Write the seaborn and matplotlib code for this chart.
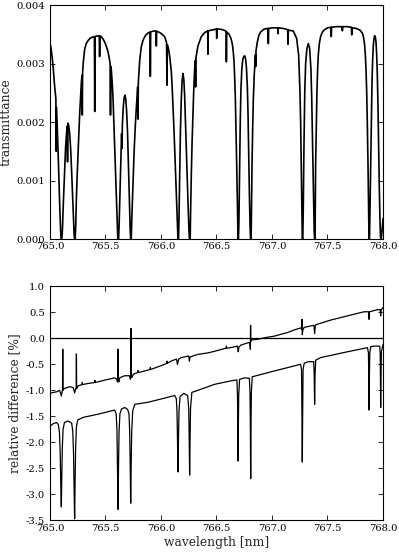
import numpy as np
import matplotlib
matplotlib.use("Agg")
import matplotlib.pyplot as plt
import seaborn as sns
from matplotlib.ticker import FormatStrFormatter, MultipleLocator

WL0 = 765.0  # wavelength origin [nm], points below are offsets from it

# transmittance (units of 1e-3)
trans_pts = [
    (0.000, 3.36), (0.010, 3.25), (0.020, 3.10), (0.030, 2.90), (0.040, 2.65),
    (0.050, 2.45), (0.053, 2.40), (0.056, 1.50), (0.059, 2.25), (0.065, 1.95),
    (0.072, 1.55), (0.080, 1.05), (0.088, 0.55), (0.095, 0.18), (0.100, 0.0),
    (0.106, 0.0), (0.112, 0.15), (0.120, 0.60), (0.130, 1.10), (0.140, 1.55),
    (0.150, 1.83), (0.155, 1.93), (0.158, 1.32), (0.161, 1.98), (0.168, 1.95),
    (0.177, 1.82), (0.186, 1.55), (0.195, 1.15), (0.204, 0.70), (0.212, 0.30),
    (0.218, 0.05), (0.222, 0.0), (0.227, 0.0), (0.232, 0.25), (0.237, 0.64),
    (0.244, 1.05), (0.252, 1.44), (0.260, 1.80), (0.267, 2.12), (0.275, 2.42),
    (0.282, 2.66), (0.288, 2.80), (0.291, 2.12), (0.294, 2.85), (0.300, 3.02),
    (0.312, 3.24), (0.326, 3.34), (0.342, 3.39), (0.360, 3.43), (0.380, 3.45),
    (0.400, 3.46), (0.403, 2.18), (0.406, 3.46), (0.420, 3.47), (0.444, 3.47),
    (0.447, 3.12), (0.450, 3.47), (0.462, 3.46), (0.478, 3.42), (0.492, 3.37),
    (0.510, 3.28), (0.523, 3.20), (0.538, 3.05), (0.542, 2.98), (0.545, 2.12),
    (0.548, 2.95), (0.553, 2.88), (0.560, 2.68), (0.568, 2.40), (0.575, 2.00),
    (0.583, 1.55), (0.590, 1.12), (0.598, 0.70), (0.605, 0.30), (0.610, 0.05),
    (0.613, 0.0), (0.618, 0.0), (0.622, 0.20), (0.630, 0.75), (0.638, 1.30),
    (0.645, 1.80), (0.649, 1.55), (0.652, 1.95), (0.660, 2.25), (0.668, 2.42),
    (0.675, 2.46), (0.682, 2.40), (0.690, 2.20), (0.698, 1.85), (0.705, 1.40),
    (0.712, 0.90), (0.718, 0.45), (0.723, 0.12), (0.727, 0.0), (0.732, 0.0),
    (0.737, 0.35), (0.748, 0.98), (0.758, 1.50), (0.769, 1.95), (0.778, 2.25),
    (0.787, 2.50), (0.790, 2.60), (0.793, 2.05), (0.796, 2.68), (0.808, 3.05),
    (0.822, 3.28), (0.838, 3.40), (0.860, 3.48), (0.883, 3.52), (0.902, 3.54),
    (0.904, 2.78), (0.907, 3.54), (0.930, 3.555), (0.956, 3.556), (0.958, 3.30),
    (0.961, 3.55), (0.988, 3.53), (1.010, 3.50), (1.033, 3.46), (1.050, 3.36),
    (1.054, 2.63), (1.057, 3.32), (1.069, 3.24), (1.080, 3.10), (1.093, 2.86),
    (1.100, 2.62), (1.108, 2.29), (1.116, 1.92), (1.123, 1.55), (1.130, 1.18),
    (1.138, 0.81), (1.145, 0.40), (1.150, 0.10), (1.153, 0.0), (1.158, 0.0),
    (1.162, 0.35), (1.168, 1.05), (1.175, 1.85), (1.183, 2.40), (1.190, 2.70),
    (1.198, 2.83), (1.206, 2.72), (1.213, 2.45), (1.220, 2.05), (1.228, 1.55),
    (1.236, 1.05), (1.243, 0.64), (1.250, 0.25), (1.255, 0.03), (1.258, 0.0),
    (1.263, 0.0), (1.266, 0.40), (1.273, 1.09), (1.280, 1.65), (1.288, 2.12),
    (1.295, 2.55), (1.303, 2.90), (1.309, 3.05), (1.312, 2.60), (1.315, 3.10),
    (1.333, 3.30), (1.363, 3.46), (1.395, 3.53), (1.421, 3.56), (1.423, 3.16),
    (1.426, 3.56), (1.477, 3.58), (1.500, 3.59), (1.502, 3.43), (1.505, 3.59),
    (1.540, 3.585), (1.568, 3.57), (1.587, 3.55), (1.589, 3.03), (1.592, 3.54),
    (1.613, 3.50), (1.630, 3.43), (1.643, 3.33), (1.652, 3.18), (1.658, 3.03),
    (1.664, 2.75), (1.670, 2.40), (1.676, 1.85), (1.682, 1.26), (1.688, 0.60),
    (1.692, 0.15), (1.694, 0.0), (1.698, 0.0), (1.702, 0.30), (1.708, 1.20),
    (1.714, 2.00), (1.720, 2.55), (1.728, 2.90), (1.736, 3.06), (1.745, 3.12),
    (1.754, 3.13), (1.762, 3.08), (1.770, 2.92), (1.778, 2.60), (1.784, 2.15),
    (1.790, 1.45), (1.796, 0.80), (1.802, 0.25), (1.806, 0.02), (1.808, 0.0),
    (1.812, 0.0), (1.815, 0.50), (1.820, 1.27), (1.826, 1.90), (1.832, 2.40),
    (1.840, 2.80), (1.847, 3.03), (1.851, 3.15), (1.853, 2.95), (1.856, 3.22),
    (1.868, 3.37), (1.882, 3.48), (1.898, 3.54), (1.930, 3.59), (1.964, 3.60),
    (1.967, 3.34), (1.970, 3.60), (2.000, 3.61), (2.052, 3.61), (2.054, 3.51),
    (2.057, 3.61), (2.100, 3.60), (2.141, 3.58), (2.144, 3.33), (2.147, 3.57),
    (2.192, 3.556), (2.222, 3.43), (2.240, 3.145), (2.252, 2.52), (2.258, 2.00),
    (2.264, 1.27), (2.269, 0.55), (2.273, 0.0), (2.277, 0.0), (2.281, 0.40),
    (2.288, 1.60), (2.295, 2.50), (2.303, 3.00), (2.315, 3.26), (2.327, 3.34),
    (2.339, 3.26), (2.351, 2.90), (2.358, 2.40), (2.366, 1.55), (2.374, 0.70),
    (2.380, 0.15), (2.384, 0.0), (2.388, 0.0), (2.390, 0.60), (2.393, 1.27),
    (2.399, 1.95), (2.405, 2.52), (2.411, 2.90), (2.417, 3.145), (2.427, 3.35),
    (2.438, 3.46), (2.452, 3.53), (2.468, 3.57), (2.500, 3.61), (2.532, 3.62),
    (2.534, 3.46), (2.537, 3.62), (2.580, 3.63), (2.632, 3.63), (2.634, 3.56),
    (2.637, 3.63), (2.680, 3.63), (2.716, 3.62), (2.718, 3.49), (2.721, 3.61),
    (2.760, 3.60), (2.793, 3.57), (2.814, 3.52), (2.823, 3.46), (2.833, 3.35),
    (2.841, 3.145), (2.847, 2.90), (2.853, 2.52), (2.859, 1.95), (2.865, 1.27),
    (2.870, 0.55), (2.874, 0.0), (2.878, 0.0), (2.882, 0.40), (2.889, 1.27),
    (2.895, 2.10), (2.901, 2.69), (2.907, 3.08), (2.913, 3.316), (2.919, 3.43),
    (2.925, 3.476), (2.931, 3.45), (2.937, 3.37), (2.943, 3.15), (2.949, 2.80),
    (2.955, 2.25), (2.961, 1.55), (2.967, 0.85), (2.973, 0.30), (2.977, 0.05),
    (2.980, 0.0), (2.985, 0.0), (2.992, 0.15), (3.000, 0.35),
]

# relative difference [%], upper curve
diff_upper_pts = [
    (0.000, -1.06), (0.030, -1.04), (0.060, -1.03), (0.085, -1.00), (0.095, -1.05),
    (0.102, -1.11), (0.108, -1.05), (0.113, -0.98), (0.115, -0.21), (0.117, -1.00),
    (0.125, -0.97), (0.150, -0.95), (0.180, -0.93), (0.210, -0.95), (0.222, -1.05),
    (0.230, -0.98), (0.236, -0.95), (0.238, -0.30), (0.240, -0.97), (0.250, -0.92),
    (0.289, -0.89), (0.291, -0.85), (0.293, -0.89), (0.340, -0.87), (0.403, -0.85),
    (0.405, -0.81), (0.407, -0.85), (0.447, -0.83), (0.500, -0.80), (0.545, -0.78),
    (0.580, -0.76), (0.600, -0.78), (0.608, -0.84), (0.611, -0.80), (0.613, -0.21),
    (0.615, -0.80), (0.620, -0.84), (0.628, -0.76), (0.649, -0.74), (0.673, -0.72),
    (0.715, -0.72), (0.724, -0.79), (0.729, -0.74), (0.731, 0.19), (0.733, -0.74),
    (0.740, -0.75), (0.750, -0.69), (0.791, -0.66), (0.793, -0.62), (0.795, -0.66),
    (0.850, -0.63), (0.902, -0.60), (0.904, -0.56), (0.906, -0.60), (0.958, -0.56),
    (1.033, -0.50), (1.052, -0.48), (1.054, -0.44), (1.056, -0.48), (1.100, -0.43),
    (1.140, -0.40), (1.148, -0.50), (1.153, -0.46), (1.160, -0.40), (1.183, -0.37),
    (1.250, -0.34), (1.256, -0.44), (1.262, -0.36), (1.300, -0.33), (1.333, -0.31),
    (1.423, -0.28), (1.483, -0.25), (1.550, -0.21), (1.587, -0.19), (1.589, -0.15),
    (1.591, -0.19), (1.627, -0.18), (1.690, -0.15), (1.696, -0.26), (1.702, -0.17),
    (1.720, -0.13), (1.778, -0.09), (1.800, -0.08), (1.805, -0.21), (1.807, 0.25),
    (1.809, -0.06), (1.815, -0.03), (1.868, -0.02), (1.958, 0.02), (2.018, 0.04),
    (2.138, 0.11), (2.200, 0.16), (2.258, 0.20), (2.268, 0.17), (2.271, 0.365),
    (2.273, 0.07), (2.278, 0.16), (2.290, 0.21), (2.378, 0.25), (2.384, 0.09),
    (2.390, 0.24), (2.395, 0.26), (2.528, 0.35), (2.678, 0.43), (2.829, 0.51),
    (2.870, 0.51), (2.874, 0.365), (2.879, 0.51), (2.949, 0.55), (2.975, 0.55),
    (2.979, 0.43), (2.984, 0.55), (3.000, 0.59),
]

# relative difference [%], lower curve
diff_lower_pts = [
    (0.000, -1.69), (0.030, -1.64), (0.060, -1.62), (0.075, -1.66), (0.085, -1.80),
    (0.092, -2.20), (0.097, -2.80), (0.102, -3.24), (0.106, -2.70), (0.111, -2.10),
    (0.118, -1.75), (0.130, -1.62), (0.162, -1.59), (0.195, -1.63), (0.205, -1.78),
    (0.212, -2.20), (0.217, -2.90), (0.222, -3.47), (0.226, -2.80), (0.231, -2.10),
    (0.238, -1.70), (0.250, -1.57), (0.300, -1.52), (0.432, -1.46), (0.583, -1.38),
    (0.596, -1.45), (0.603, -1.75), (0.608, -2.50), (0.613, -3.29), (0.617, -2.50),
    (0.622, -1.80), (0.630, -1.45), (0.645, -1.36), (0.673, -1.33), (0.700, -1.37),
    (0.712, -1.46), (0.718, -1.80), (0.723, -2.50), (0.727, -3.17), (0.731, -2.50),
    (0.736, -1.80), (0.745, -1.40), (0.763, -1.27), (0.883, -1.23), (1.033, -1.15),
    (1.123, -1.10), (1.138, -1.16), (1.144, -1.40), (1.149, -2.00), (1.153, -2.57),
    (1.157, -2.00), (1.162, -1.40), (1.172, -1.12), (1.205, -1.06), (1.240, -1.10),
    (1.250, -1.35), (1.254, -1.95), (1.258, -2.63), (1.262, -1.95), (1.266, -1.35),
    (1.278, -1.04), (1.333, -1.00), (1.483, -0.885), (1.627, -0.82), (1.684, -0.80),
    (1.689, -1.10), (1.692, -1.70), (1.694, -2.36), (1.697, -1.70), (1.700, -1.10),
    (1.708, -0.79), (1.754, -0.76), (1.796, -0.77), (1.802, -1.05), (1.805, -1.70),
    (1.808, -2.70), (1.811, -1.70), (1.814, -1.05), (1.822, -0.74), (2.018, -0.63),
    (2.258, -0.50), (2.266, -0.60), (2.270, -1.50), (2.273, -2.38), (2.276, -1.50),
    (2.280, -0.60), (2.290, -0.48), (2.327, -0.45), (2.376, -0.45), (2.380, -0.70),
    (2.384, -1.27), (2.388, -0.70), (2.394, -0.42), (2.440, -0.37), (2.678, -0.26),
    (2.860, -0.18), (2.869, -0.28), (2.872, -0.80), (2.874, -1.38), (2.877, -0.80),
    (2.881, -0.28), (2.890, -0.16), (2.925, -0.15), (2.970, -0.15), (2.975, -0.30),
    (2.977, -0.80), (2.979, -1.33), (2.982, -0.75), (2.986, -0.25), (3.000, -0.12),
]

x_ticks = [765.0, 765.5, 766.0, 766.5, 767.0, 767.5, 768.0]


def split(pts, scale=1.0):
    arr = np.array(pts)
    return WL0 + arr[:, 0], arr[:, 1] * scale


sns.set_style("ticks")
plt.rcParams.update({
    "font.family": ["DejaVu Serif"],
    "font.size": 7.2,
    "axes.unicode_minus": False,
    "axes.linewidth": 0.8,
    "xtick.direction": "in",
    "ytick.direction": "in",
    "xtick.top": True,
    "ytick.right": True,
    "xtick.major.size": 3.5,
    "ytick.major.size": 3.5,
    "xtick.major.width": 0.6,
    "ytick.major.width": 0.6,
    "xtick.major.pad": 2.5,
    "ytick.major.pad": 3.5,
    "xtick.color": "black",
    "ytick.color": "black",
    "axes.edgecolor": "black",
})

fig = plt.figure(figsize=(3.99, 5.53), dpi=100)
ax1 = fig.add_axes([0.1253, 0.5678, 0.8346, 0.4231])
ax2 = fig.add_axes([0.1253, 0.0591, 0.8346, 0.4232])

wl, tr = split(trans_pts, 1e-3)
sns.lineplot(x=wl, y=tr, ax=ax1, color="black", linewidth=1.2,
             estimator=None, sort=False)
ax1.set_xlim(765.0, 768.0)
ax1.set_ylim(0.0, 0.004)
ax1.set_xticks(x_ticks)
ax1.yaxis.set_major_locator(MultipleLocator(0.001))
ax1.yaxis.set_major_formatter(FormatStrFormatter("%.3f"))
ax1.xaxis.set_major_formatter(FormatStrFormatter("%.1f"))
ax1.set_ylabel("transmittance", fontsize=8.8, labelpad=3)

ax2.axhline(0.0, color="black", linewidth=0.9)
wl, d1 = split(diff_upper_pts)
sns.lineplot(x=wl, y=d1, ax=ax2, color="black", linewidth=0.9,
             estimator=None, sort=False)
wl, d2 = split(diff_lower_pts)
sns.lineplot(x=wl, y=d2, ax=ax2, color="black", linewidth=0.9,
             estimator=None, sort=False)
ax2.set_xlim(765.0, 768.0)
ax2.set_ylim(-3.5, 1.0)
ax2.set_xticks(x_ticks)
ax2.yaxis.set_major_locator(MultipleLocator(0.5))
ax2.yaxis.set_major_formatter(FormatStrFormatter("%.1f"))
ax2.xaxis.set_major_formatter(FormatStrFormatter("%.1f"))
ax2.set_ylabel("relative difference [%]", fontsize=8.8, labelpad=3)
ax2.set_xlabel("wavelength [nm]", fontsize=8.8, labelpad=2)

fig.savefig("out.png", dpi=100)
